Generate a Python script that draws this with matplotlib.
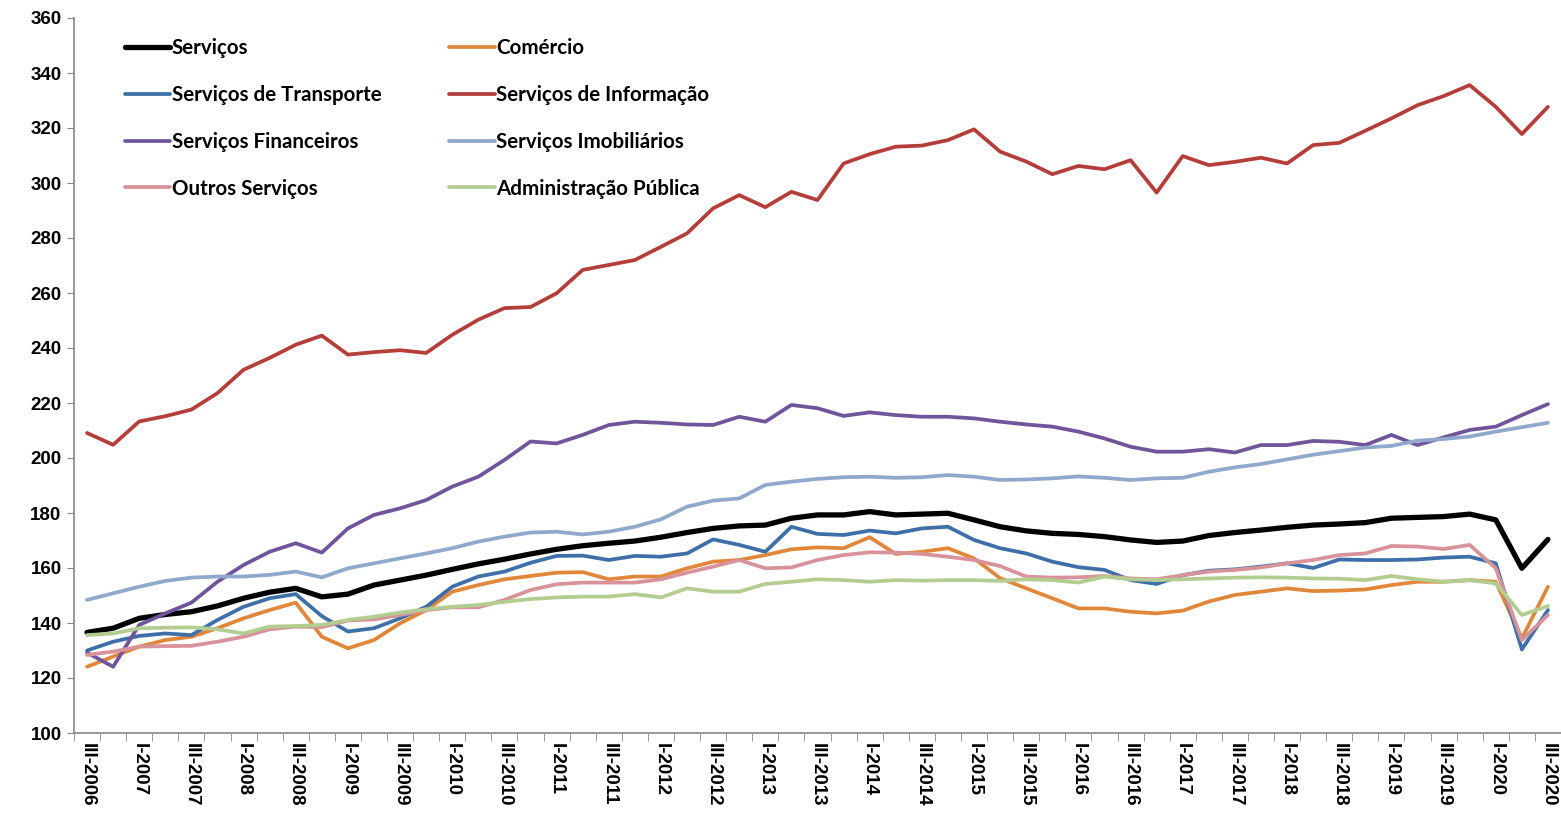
import matplotlib
matplotlib.use("Agg")
import matplotlib.pyplot as plt

# quarterly index values, III-2006 .. III-2020 (57 quarters)
servicos = [136.6, 138.1, 141.7, 143.1, 144.1, 146.2, 149.0, 151.2, 152.6, 149.5,
            150.5, 153.8, 155.6, 157.4, 159.5, 161.5, 163.2, 165.1, 166.8, 168.1,
            169.0, 169.8, 171.2, 172.9, 174.4, 175.3, 175.6, 178.1, 179.3, 179.3,
            180.5, 179.3, 179.6, 179.9, 177.5, 175.0, 173.5, 172.6, 172.2, 171.4,
            170.2, 169.3, 169.8, 171.8, 172.9, 173.8, 174.8, 175.6, 176.0, 176.5,
            178.1, 178.4, 178.7, 179.6, 177.5, 159.9, 170.4]
comercio = [124.1, 127.8, 131.4, 133.8, 135.0, 138.1, 141.7, 144.7, 147.4, 135.0,
            130.8, 133.8, 139.9, 144.7, 151.4, 153.8, 155.9, 157.1, 158.3, 158.5,
            155.9, 156.9, 156.9, 159.9, 162.3, 162.9, 164.7, 166.8, 167.5, 167.2,
            171.2, 165.1, 165.9, 167.2, 163.5, 156.3, 152.6, 149.0, 145.3, 145.3,
            144.1, 143.5, 144.5, 147.8, 150.2, 151.4, 152.6, 151.6, 151.8, 152.2,
            153.8, 155.0, 155.0, 155.6, 155.0, 134.4, 153.2]
transporte = [130.0, 133.2, 135.3, 136.2, 135.6, 141.1, 145.9, 149.0, 150.5, 142.5,
              136.9, 138.1, 141.7, 145.9, 153.2, 156.9, 158.7, 161.9, 164.4, 164.5,
              162.9, 164.4, 164.1, 165.3, 170.4, 168.4, 165.9, 175.0, 172.4, 172.0,
              173.6, 172.6, 174.4, 175.0, 170.2, 167.2, 165.3, 162.3, 160.3, 159.3,
              155.6, 154.2, 157.4, 159.0, 159.5, 160.5, 161.7, 160.0, 163.1, 162.9,
              162.9, 163.1, 163.8, 164.1, 161.7, 130.4, 144.7]
informacao = [209.1, 204.8, 213.3, 215.2, 217.6, 223.6, 232.1, 236.4, 241.2, 244.5,
              237.6, 238.5, 239.2, 238.2, 244.8, 250.3, 254.5, 254.9, 259.9, 268.4,
              270.2, 272.0, 276.8, 281.7, 290.8, 295.6, 291.2, 296.8, 293.8, 307.1,
              310.5, 313.2, 313.6, 315.6, 319.5, 311.4, 307.8, 303.2, 306.2, 305.0,
              308.3, 296.5, 309.8, 306.5, 307.7, 309.2, 307.1, 313.8, 314.6, 319.0,
              323.5, 328.3, 331.6, 335.6, 327.7, 317.8, 327.7]
financeiros = [129.2, 124.1, 139.3, 143.5, 147.4, 155.0, 161.1, 165.9, 169.0, 165.6,
               174.4, 179.3, 181.7, 184.7, 189.6, 193.2, 199.3, 206.0, 205.3, 208.4,
               212.0, 213.2, 212.8, 212.2, 212.0, 215.0, 213.2, 219.3, 218.1, 215.3,
               216.6, 215.6, 215.0, 215.0, 214.4, 213.2, 212.2, 211.4, 209.6, 207.1,
               204.1, 202.3, 202.3, 203.2, 202.0, 204.7, 204.7, 206.2, 205.9, 204.7,
               208.4, 204.7, 207.5, 210.2, 211.4, 215.6, 219.6]
imobiliarios = [148.4, 150.8, 153.2, 155.3, 156.5, 156.9, 156.9, 157.5, 158.7, 156.6,
                159.9, 161.7, 163.5, 165.3, 167.2, 169.6, 171.4, 172.9, 173.2, 172.2,
                173.2, 175.0, 177.7, 182.3, 184.5, 185.3, 190.2, 191.4, 192.4, 193.0,
                193.2, 192.8, 193.0, 193.8, 193.2, 192.0, 192.2, 192.6, 193.3, 192.8,
                192.0, 192.6, 192.8, 195.0, 196.6, 197.8, 199.5, 201.2, 202.5, 203.8,
                204.4, 206.3, 206.9, 207.8, 209.6, 211.2, 212.8]
outros = [128.4, 129.6, 131.4, 131.6, 131.7, 133.2, 135.0, 137.7, 138.7, 138.5,
          140.9, 141.3, 142.9, 144.7, 145.7, 145.7, 148.4, 152.0, 154.1, 154.7,
          154.7, 154.7, 155.9, 158.3, 160.5, 162.9, 159.9, 160.2, 162.9, 164.7,
          165.7, 165.6, 165.1, 164.1, 162.9, 160.7, 156.9, 156.5, 156.6, 157.1,
          156.2, 155.9, 157.4, 158.7, 159.3, 160.2, 161.7, 162.9, 164.7, 165.3,
          168.0, 167.8, 166.9, 168.4, 159.9, 133.8, 142.9]
adm_publica = [135.6, 136.2, 138.1, 138.3, 138.4, 137.7, 136.2, 138.7, 138.9, 139.3,
               141.1, 142.3, 143.8, 145.0, 145.9, 146.5, 147.7, 148.7, 149.3, 149.6,
               149.6, 150.5, 149.3, 152.6, 151.4, 151.4, 154.2, 155.0, 155.9, 155.6,
               155.0, 155.6, 155.4, 155.6, 155.6, 155.3, 155.9, 155.6, 154.7, 156.9,
               155.9, 155.6, 155.9, 156.2, 156.5, 156.6, 156.5, 156.2, 156.1, 155.6,
               157.1, 155.9, 155.0, 155.6, 154.4, 142.9, 146.2]

tick_labels = ["III-2006", "I-2007", "III-2007", "I-2008", "III-2008", "I-2009",
               "III-2009", "I-2010", "III-2010", "I-2011", "III-2011", "I-2012",
               "III-2012", "I-2013", "III-2013", "I-2014", "III-2014", "I-2015",
               "III-2015", "I-2016", "III-2016", "I-2017", "III-2017", "I-2018",
               "III-2018", "I-2019", "III-2019", "I-2020", "III-2020"]

series = [
    ("Serviços", servicos, "#000000", 3.8),
    ("Comércio", comercio, "#E0873A", 2.7),
    ("Serviços de Transporte", transporte, "#3F6FA8", 2.7),
    ("Serviços de Informação", informacao, "#B43E3A", 2.7),
    ("Serviços Financeiros", financeiros, "#70559B", 2.7),
    ("Serviços Imobiliários", imobiliarios, "#8FA8CC", 2.7),
    ("Outros Serviços", outros, "#D8939A", 2.7),
    ("Administração Pública", adm_publica, "#B3CC90", 2.7),
]

fig = plt.figure(figsize=(15.61, 8.15), dpi=100)
ax = fig.add_axes([74 / 1561, 82 / 815, 1487 / 1561, 715 / 815])

handles = {}
for name, vals, color, lw in series:
    x = list(range(len(vals)))
    line, = ax.plot(x, vals, color=color, lw=lw, solid_joinstyle="round",
                    solid_capstyle="round", label=name)
    handles[name] = line

ax.set_xlim(-0.5, 56.5)
ax.set_ylim(100, 360)
ax.set_yticks(range(100, 361, 20))
ax.set_xticks(range(0, 57, 2))
ax.set_xticks([i + 0.5 for i in range(-1, 57)], minor=True)
ax.set_xticklabels(tick_labels, rotation=270, ha="center", va="top",
                   fontsize=13.5, fontweight="bold", family="Liberation Sans")
for lab in ax.get_yticklabels():
    lab.set_fontsize(13.5)
    lab.set_fontweight("bold")
    lab.set_family("Liberation Sans")

ax.tick_params(axis="x", which="major", length=0, pad=7)
ax.tick_params(axis="x", which="minor", length=6, color="#888888", direction="out")
ax.tick_params(axis="y", length=5, color="#888888", direction="out", pad=4)
for side in ["top", "right"]:
    ax.spines[side].set_visible(False)
for side in ["left", "bottom"]:
    ax.spines[side].set_color("#888888")
    ax.spines[side].set_linewidth(1.2)

# legend: two columns, read row by row like the original
order = ["Serviços", "Serviços de Transporte", "Serviços Financeiros", "Outros Serviços",
         "Comércio", "Serviços de Informação", "Serviços Imobiliários", "Administração Pública"]
leg = ax.legend([handles[n] for n in order], order, ncol=2, loc="upper left",
                bbox_to_anchor=(0.0343, 0.9715), frameon=False,
                prop={"family": "Lato", "weight": "bold", "size": 14.8},
                handlelength=2.2, handletextpad=0.08, labelspacing=1.3,
                columnspacing=3.3, borderpad=0, borderaxespad=0)

fig.savefig("out.png", dpi=100, facecolor="white")
